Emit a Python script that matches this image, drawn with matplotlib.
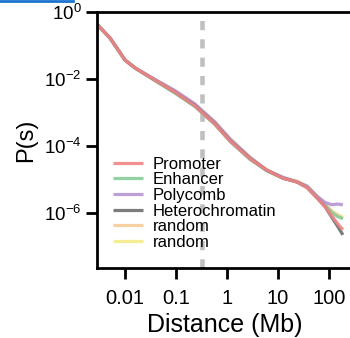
import numpy as np
import matplotlib
matplotlib.use("Agg")
import matplotlib.pyplot as plt
from matplotlib.lines import Line2D

plt.rcParams['font.family'] = ['Liberation Sans', 'DejaVu Sans']
plt.rcParams['mathtext.fontset'] = 'custom'
plt.rcParams['mathtext.rm'] = 'Liberation Sans'
plt.rcParams['mathtext.it'] = 'Liberation Sans'

# log10 distance (Mb) and log10 P(s) for the shared part of the curves
log_dist = [-2.55, -2.29, -2.0, -1.80, -1.41, -1.02, -0.63, -0.24, 0.06, 0.45,
            0.78, 1.10, 1.37, 1.57, 1.76, 1.92, 2.05, 2.16, 2.27]
base_logp = [-0.36, -0.78, -1.43, -1.67, -2.03, -2.39, -2.78, -3.31, -3.82, -4.36,
             -4.72, -4.96, -5.07, -5.22, -5.52, -5.76, -5.90, -5.98, -6.05]

labels = ['Promoter', 'Enhancer', 'Polycomb', 'Heterochromatin', 'random', 'random']
colors = ['#f08585', '#85cc98', '#b594d4', '#6e6e6e', '#f8cc98', '#f4ec88']

# per-series offsets (log10) relative to base curve
offsets = {
    'Promoter':        [0, 0, 0, 0, 0, 0, -0.02, -0.03, -0.03, -0.02, 0, 0, 0, -0.02, -0.02, -0.05, -0.18, -0.32, -0.45],
    'Enhancer':        [0, 0, 0, 0, -0.02, -0.03, -0.04, -0.04, -0.04, -0.04, -0.02, 0, 0, 0, 0, 0.0, -0.08, -0.12, -0.12],
    'Polycomb':        [0, 0, 0, 0, 0.02, 0.05, 0.04, 0.03, 0.03, 0.02, 0.0, 0.03, 0.0, 0.02, 0.03, 0.08, 0.15, 0.25, 0.30],
    'Heterochromatin': [0, 0, 0, 0, 0, 0, -0.01, -0.02, -0.02, -0.01, 0, 0, 0, -0.02, -0.02, -0.05, -0.22, -0.40, -0.60],
    'random1':         [0, 0, 0, 0, 0, 0.02, 0.02, 0.03, 0.04, 0.02, 0.0, 0.0, 0.02, 0.03, 0.02, 0.02, -0.04, -0.08, -0.10],
    'random2':         [0, 0, 0, 0, 0, 0.02, 0.02, 0.03, 0.04, 0.03, 0.01, 0.0, 0.02, 0.03, 0.02, 0.02, -0.03, -0.06, -0.07],
}
order_keys = ['Promoter', 'Enhancer', 'Polycomb', 'Heterochromatin', 'random1', 'random2']

vline_x = 0.32

fig = plt.figure(figsize=(3.5, 3.38), dpi=100)
ax = fig.add_axes([0.277, 0.207, 0.729, 0.757])

x = 10 ** np.array(log_dist)
draw_order = [5, 4, 1, 2, 3, 0]
handles = {}
for i in draw_order:
    y = 10 ** (np.array(base_logp) + np.array(offsets[order_keys[i]]))
    h, = ax.plot(x, y, color=colors[i], lw=2.3, alpha=0.9, solid_capstyle='butt')
    handles[i] = h

ax.axvline(vline_x, color='#c0c0c0', lw=3.3, ls=(0, (2.0, 2.0)), zorder=0)

ax.set_xscale('log')
ax.set_yscale('log')
ax.set_xlim(10 ** -2.55, 10 ** 2.45)
ax.set_ylim(10 ** -7.64, 1)

ax.set_xticks([0.01, 0.1, 1, 10, 100])
ax.set_xticklabels(['0.01', '0.1', '1', '10', '100'])
ax.set_yticks([1, 1e-2, 1e-4, 1e-6])
ax.set_yticklabels([r'$10^{0}$', r'$10^{-2}$', r'$10^{-4}$', r'$10^{-6}$'])
ax.minorticks_off()
ax.tick_params(axis='both', which='major', direction='out', length=8, width=2,
               color='black')
ax.tick_params(axis='x', labelsize=14.5, pad=7)
ax.tick_params(axis='y', labelsize=13.5, pad=3)

for s in ['left', 'bottom', 'top']:
    ax.spines[s].set_linewidth(2)
ax.spines['right'].set_visible(False)

ax.set_xlabel('Distance (Mb)', fontsize=18, labelpad=4)
ax.set_ylabel('P(s)', fontsize=17, labelpad=5)

leg = ax.legend([handles[i] for i in range(6)], labels, loc='lower left',
                bbox_to_anchor=(0.035, 0.045), frameon=False, fontsize=12,
                handlelength=1.8, handletextpad=0.6, labelspacing=0.04,
                borderaxespad=0)

fig.add_artist(Line2D([0, 73 / 350], [0.997, 0.997], color='#1a73d0', lw=2,
                      transform=fig.transFigure))

fig.savefig('out.png', dpi=100)
